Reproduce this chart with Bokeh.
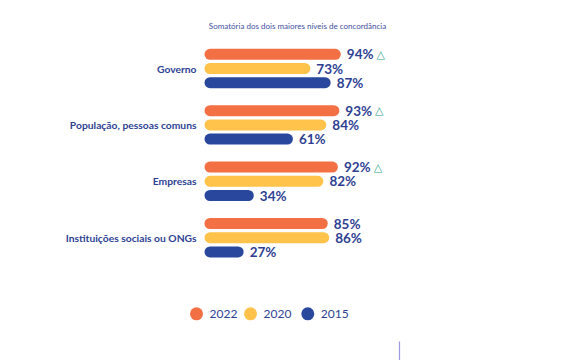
from bokeh.plotting import figure
from bokeh.models import Range1d, Label
from bokeh.embed import file_html
from bokeh.resources import INLINE
from bokeh.core.properties import value

categories = ["Governo", "População, pessoas comuns", "Empresas", "Instituições sociais ou ONGs"]
years = ["2022", "2020", "2015"]
v2022 = [94, 93, 92, 85]
v2020 = [73, 84, 82, 86]
v2015 = [87, 61, 34, 27]
up_2022 = [True, True, True, False]
title = "Somatória dos dois maiores níveis de concordância"

colors = ["#F37044", "#FFC24B", "#29479D"]
navy = "#2E3F93"

W, H = 560, 360
PX = 1.45          # pixels per percentage point
X0 = 204           # pixel position of 0%
G0, GSTEP, BSTEP, BH = 53.8, 56.4, 14.2, 11

p = figure(width=W, height=H, output_backend="svg", toolbar_location=None,
           x_range=Range1d(-X0 / PX, (W - X0) / PX), y_range=Range1d(H, 0),
           x_axis_location=None, y_axis_location=None, min_border=0,
           outline_line_color=None, background_fill_color="white")
p.grid.visible = False

series = [v2022, v2020, v2015]
for j, vals in enumerate(series):
    ys = [G0 + GSTEP * i + BSTEP * j for i in range(len(categories))]
    p.hbar(y=ys, left=0, right=vals, height=BH, fill_color=colors[j],
           line_color=None, border_radius=6)
    p.text(x=vals, y=ys, text=[f"{v}%" for v in vals], x_offset=6,
           text_baseline="middle", text_align="left", text_font=value("Lato"),
           text_font_style="bold", text_font_size="13.5px", text_color=navy)
    if j == 0:
        tx = [v for v, u in zip(vals, up_2022) if u]
        ty = [y for y, u in zip(ys, up_2022) if u]
        p.text(x=tx, y=ty, text=["△"] * len(tx), x_offset=40, text_align="center",
               text_baseline="middle", text_font=value("DejaVu Sans"),
               text_font_size="11px", text_color="#2FA88F")

mid = [G0 + GSTEP * i + BSTEP for i in range(len(categories))]
p.text(x=[0] * len(categories), y=mid, text=categories, x_offset=-8,
       text_align="right", text_baseline="middle", text_font=value("Lato"),
       text_font_style="bold", text_font_size="10.3px", text_color=navy)

p.add_layout(Label(x=297, y=H - 25, x_units="screen", y_units="screen", text=title,
                   text_align="center", text_baseline="middle", text_font="Lato",
                   text_font_size="8px", text_color="#3F4FA0"))

# legend
LEG_Y = 313.3
leg_px = [196, 250, 307.3]
p.scatter(x=[(x - X0) / PX for x in leg_px], y=[LEG_Y] * 3, size=13,
          fill_color=colors, line_color=None)
p.text(x=[(x - X0) / PX for x in leg_px], y=[LEG_Y] * 3, text=years, x_offset=13,
       text_align="left", text_baseline="middle", text_font=value("Lato"),
       text_font_size="12px", text_color=navy)

# thin divider at the bottom edge of the page
p.segment(x0=[(399 - X0) / PX], y0=[341], x1=[(399 - X0) / PX], y1=[H],
          line_color="#9D99DE", line_width=1.2)

open("out.html", "w").write(file_html(p, INLINE))
